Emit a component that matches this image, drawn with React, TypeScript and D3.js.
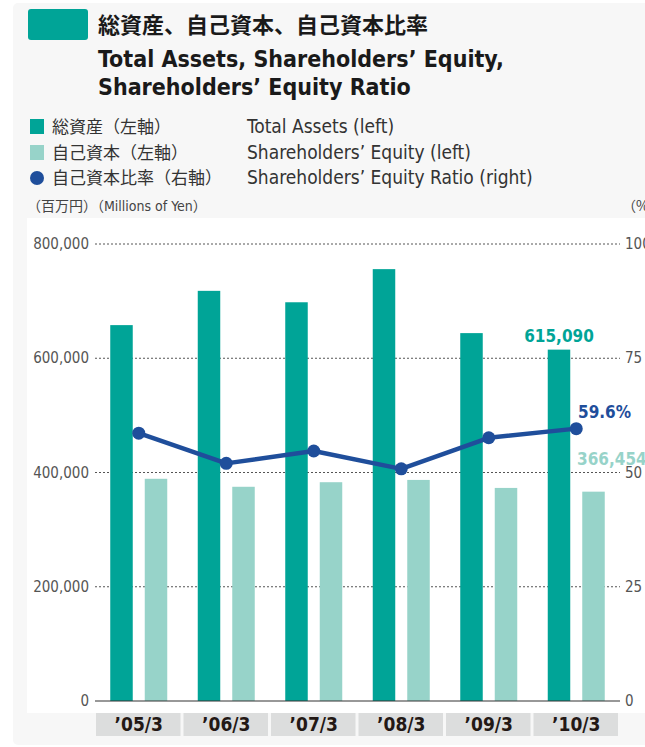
import React from "react";
import * as d3 from "d3";

const categories = ["’05/3", "’06/3", "’07/3", "’08/3", "’09/3", "’10/3"];
const totalAssets = [658000, 718000, 698000, 756000, 644000, 615090];
const shareholdersEquity = [389000, 375000, 383000, 387000, 373000, 366454];
const equityRatio = [58.6, 52.0, 54.7, 50.8, 57.6, 59.6];
const leftTicks = [0, 200000, 400000, 600000, 800000];
const rightTicks = [0, 25, 50, 75, 100];
const seriesKeys = ["assets", "equity"];

const W = 645;
const H = 747;
const C_DARK = "#00a497";
const C_LIGHT = "#97d3c9";
const C_BLUE = "#1f4e9b";
const JP = "'Noto Sans CJK JP', sans-serif";
const EN = "'Liberation Sans Narrow', 'DejaVu Sans Condensed', 'Noto Sans', sans-serif";

export default function App() {
  const x = d3.scaleBand<string>().domain(categories).range([95, 620]);
  const inner = d3
    .scaleBand<string>()
    .domain(seriesKeys)
    .range([0, x.bandwidth()])
    .paddingInner(0.348)
    .paddingOuter(0.442);
  const yL = d3.scaleLinear().domain([0, 800000]).range([701, 244]);
  const yR = d3.scaleLinear().domain([0, 100]).range([701, 244]);
  const fmt = d3.format(",");
  const cx = (c: string) => (x(c) as number) + x.bandwidth() / 2;
  const line = d3
    .line<number>()
    .x((_, i) => cx(categories[i]))
    .y((d) => yR(d));
  const last = categories.length - 1;
  const lastC = categories[last];

  return (
    <svg
      width={W}
      height={H}
      style={{ position: "absolute", left: 0, top: 0 }}
      xmlns="http://www.w3.org/2000/svg"
    >
      <rect x={0} y={0} width={W} height={H} fill="#ffffff" />
      <rect x={13} y={3} width={W} height={742} rx={5} fill="#f7f7f7" />
      <rect x={27} y={218} width={W} height={495} fill="#ffffff" />

      {/* title */}
      <rect x={28} y={9} width={60} height={31} rx={3} fill={C_DARK} />
      <text x={98} y={33} fontFamily={JP} fontWeight={700} fontSize={22} fill="#1a1a1a">
        総資産、自己資本、自己資本比率
      </text>
      <text x={98} y={67} fontFamily={EN} fontWeight={700} fontSize={23} fill="#1a1a1a">
        Total Assets, Shareholders’ Equity,
      </text>
      <text x={98} y={95} fontFamily={EN} fontWeight={700} fontSize={23} fill="#1a1a1a">
        Shareholders’ Equity Ratio
      </text>

      {/* legend */}
      <rect x={30} y={119} width={14} height={15} fill={C_DARK} />
      <text x={52} y={133} fontFamily={JP} fontSize={17} fill="#333">総資産（左軸）</text>
      <text x={247} y={133} fontFamily={EN} fontSize={19} fill="#333">Total Assets (left)</text>
      <rect x={30} y={145} width={14} height={15} fill={C_LIGHT} />
      <text x={52} y={159} fontFamily={JP} fontSize={17} fill="#333">自己資本（左軸）</text>
      <text x={247} y={159} fontFamily={EN} fontSize={19} fill="#333">Shareholders’ Equity (left)</text>
      <circle cx={37} cy={178} r={7} fill={C_BLUE} />
      <text x={52} y={184} fontFamily={JP} fontSize={17} fill="#333">自己資本比率（右軸）</text>
      <text x={247} y={184} fontFamily={EN} fontSize={19} fill="#333">Shareholders’ Equity Ratio (right)</text>

      <text x={27} y={211} fontSize={14} fill="#444">
        <tspan fontFamily={JP}>（百万円）（</tspan>
        <tspan fontFamily={EN}>Millions of Yen</tspan>
        <tspan fontFamily={JP}>）</tspan>
      </text>
      <text x={622} y={211} fontFamily={JP} fontSize={14} fill="#444">（%）</text>

      {/* gridlines */}
      {leftTicks.map((t) =>
        t === 0 ? null : (
          <line key={t} x1={95} x2={620} y1={yL(t)} y2={yL(t)} stroke="#555" strokeWidth={1} strokeDasharray="2,2" />
        )
      )}

      {/* bars */}
      {categories.map((c, i) => (
        <g key={c}>
          <rect
            x={(x(c) as number) + (inner("assets") as number)}
            y={yL(totalAssets[i])}
            width={inner.bandwidth()}
            height={yL(0) - yL(totalAssets[i])}
            fill={C_DARK}
          />
          <rect
            x={(x(c) as number) + (inner("equity") as number)}
            y={yL(shareholdersEquity[i])}
            width={inner.bandwidth()}
            height={yL(0) - yL(shareholdersEquity[i])}
            fill={C_LIGHT}
          />
        </g>
      ))}

      <line x1={95} x2={620} y1={yL(0)} y2={yL(0)} stroke="#333" strokeWidth={1.2} />

      {/* left ticks */}
      {leftTicks.map((t) => (
        <text key={t} x={89} y={yL(t) + 5} textAnchor="end" fontFamily={EN} fontSize={15} fill="#555">
          {fmt(t)}
        </text>
      ))}
      {/* right ticks */}
      {rightTicks.map((t) => (
        <text key={t} x={625} y={yR(t) + 5} fontFamily={EN} fontSize={15} fill="#555">
          {t}
        </text>
      ))}

      {/* ratio line */}
      <path d={line(equityRatio) || ""} fill="none" stroke={C_BLUE} strokeWidth={4.5} strokeLinejoin="round" />
      {equityRatio.map((v, i) => (
        <circle key={i} cx={cx(categories[i])} cy={yR(v)} r={6.5} fill={C_BLUE} />
      ))}

      {/* value labels */}
      <text
        x={(x(lastC) as number) + (inner("assets") as number) + inner.bandwidth() / 2}
        y={yL(totalAssets[last]) - 8}
        textAnchor="middle"
        fontFamily={EN}
        fontWeight={700}
        fontSize={17}
        fill={C_DARK}
      >
        {fmt(totalAssets[last])}
      </text>
      <text x={578} y={yR(equityRatio[last]) - 11} fontFamily={EN} fontWeight={700} fontSize={17} fill={C_BLUE}>
        {equityRatio[last].toFixed(1)}%
      </text>
      <text x={577} y={yL(shareholdersEquity[last]) - 27} fontFamily={EN} fontWeight={700} fontSize={17} fill={C_LIGHT}>
        {fmt(shareholdersEquity[last])}
      </text>

      {/* category boxes */}
      {categories.map((c) => (
        <g key={c}>
          <rect x={(x(c) as number) + 1} y={713} width={x.bandwidth() - 3} height={23} fill="#dcdddd" />
          <text x={cx(c)} y={731} textAnchor="middle" fontFamily={EN} fontWeight={700} fontSize={19} fill="#231815">
            {c}
          </text>
        </g>
      ))}
    </svg>
  );
}
